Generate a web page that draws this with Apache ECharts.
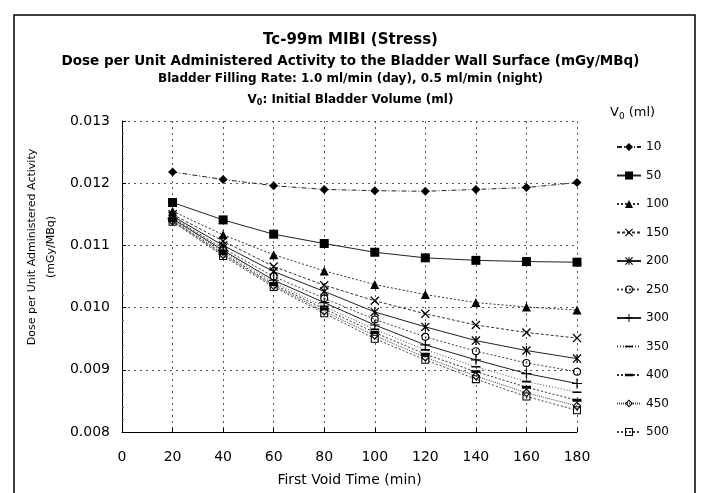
<!DOCTYPE html>
<html>
<head>
<meta charset="utf-8">
<script src="https://cdn.jsdelivr.net/npm/echarts@6/dist/echarts.min.js"></script>
<style>
  html, body { margin: 0; padding: 0; background: #fff; }
  #chart { width: 701px; height: 493px; }
</style>
</head>
<body>
<div id="chart"></div>
<script>
// first void time (min)
var times = [20, 40, 60, 80, 100, 120, 140, 160, 180];
// initial bladder volume V0 (ml)
var volumes = ['10', '50', '100', '150', '200', '250', '300', '350', '400', '450', '500'];

var v10  = [0.01218, 0.01206, 0.01196, 0.01190, 0.01188, 0.01187, 0.01190, 0.01193, 0.01201];
var v50  = [0.01169, 0.01141, 0.01118, 0.01103, 0.01089, 0.01080, 0.01076, 0.01074, 0.01073];
var v100 = [0.01155, 0.01117, 0.01085, 0.01059, 0.01037, 0.01021, 0.01008, 0.01001, 0.00996];
var v150 = [0.01150, 0.01107, 0.01066, 0.01036, 0.01011, 0.00990, 0.00972, 0.00960, 0.00951];
var v200 = [0.01147, 0.01100, 0.01058, 0.01026, 0.00993, 0.00969, 0.00947, 0.00931, 0.00918];
var v250 = [0.01145, 0.01095, 0.01050, 0.01015, 0.00981, 0.00953, 0.00930, 0.00911, 0.00897];
var v300 = [0.01143, 0.01092, 0.01044, 0.01008, 0.00972, 0.00940, 0.00916, 0.00894, 0.00878];
var v350 = [0.01141, 0.01090, 0.01040, 0.01002, 0.00965, 0.00932, 0.00905, 0.00881, 0.00864];
var v400 = [0.01140, 0.01087, 0.01037, 0.00998, 0.00960, 0.00925, 0.00897, 0.00872, 0.00851];
var v450 = [0.01139, 0.01085, 0.01035, 0.00994, 0.00955, 0.00920, 0.00890, 0.00863, 0.00842];
var v500 = [0.01138, 0.01083, 0.01033, 0.00991, 0.00950, 0.00916, 0.00885, 0.00857, 0.00835];

var allValues = [v10, v50, v100, v150, v200, v250, v300, v350, v400, v450, v500];

var yMin = 0.008, yMax = 0.013, yStep = 0.001;

// marker shapes (outline ones drawn as rings so the stroke stays thin)
var crossX = 'path://M0,1 L1,0 L10,9 L9,10 Z M9,0 L10,1 L1,10 L0,9 Z';
var star = 'path://M0,1 L1,0 L10,9 L9,10 Z M9,0 L10,1 L1,10 L0,9 Z M4.4,0 L5.6,0 L5.6,10 L4.4,10 Z';
var plus = 'path://M0,4.4 L10,4.4 L10,5.6 L0,5.6 Z M4.4,0 L5.6,0 L5.6,10 L4.4,10 Z';
// dashes: tiny corner specks keep the box square so the legend doesn't stretch them
var thinDash = 'path://M0,0 L0.01,0 L0.01,0.01 Z M0,4.1 L10,4.1 L10,5.9 L0,5.9 Z M10,10 L9.99,10 L9.99,9.99 Z';
var thickDash = 'path://M0,0 L0.01,0 L0.01,0.01 Z M0,3.4 L10,3.4 L10,6.6 L0,6.6 Z M10,10 L9.99,10 L9.99,9.99 Z';
var ring = 'path://M5,0 A5,5 0 1 1 5,10 A5,5 0 1 1 5,0 Z M5,1.4 A3.6,3.6 0 1 0 5,8.6 A3.6,3.6 0 1 0 5,1.4 Z';
var openDiamond = 'path://M5,0 L10,5 L5,10 L0,5 Z M5,1.8 L1.8,5 L5,8.2 L8.2,5 Z';
var openSquare = 'path://M0,0 L10,0 L10,10 L0,10 Z M1.3,1.3 L1.3,8.7 L8.7,8.7 L8.7,1.3 Z';

var markers = [
  {symbol: 'diamond', size: 9},
  {symbol: 'rect', size: 9},
  {symbol: 'triangle', size: 9},
  {symbol: crossX, size: 9},
  {symbol: star, size: 9},
  {symbol: ring, size: 8},
  {symbol: plus, size: 10},
  {symbol: thinDash, size: 9},
  {symbol: thickDash, size: 9},
  {symbol: openDiamond, size: 9},
  {symbol: openSquare, size: 8}
];
var lineTypes = [[5, 2, 1, 2], 'solid', [2, 2], [3, 2], 'solid', [2, 2], 'solid', [1, 2], [2, 2], [1, 1], [2, 2]];
var lineColors = ['#222', '#222', '#333', '#333', '#222', '#444', '#222', '#444', '#333', '#444', '#444'];

var series = volumes.map(function (name, i) {
  return {
    name: name,
    type: 'line',
    data: times.map(function (t, j) { return [t, allValues[i][j]]; }),
    symbol: markers[i].symbol,
    symbolSize: markers[i].size,
    showSymbol: true,
    lineStyle: { color: lineColors[i], width: 1, type: lineTypes[i] },
    itemStyle: { color: '#000' },
    emphasis: { disabled: true },
    z: 20 - i
  };
});

var font = 'DejaVu Sans';

var chart = echarts.init(document.getElementById('chart'));
chart.setOption({
  animation: false,
  backgroundColor: '#fff',
  title: [
    { text: 'Tc-99m MIBI (Stress)', left: 'center', top: 28,
      textStyle: { fontFamily: font, fontSize: 15, fontWeight: 'bold', color: '#000' } },
    { text: 'Dose per Unit Administered Activity to the Bladder Wall Surface (mGy/MBq)', left: 'center', top: 49,
      textStyle: { fontFamily: font, fontSize: 13.5, fontWeight: 'bold', color: '#000' } },
    { text: 'Bladder Filling Rate: 1.0 ml/min (day), 0.5 ml/min (night)', left: 'center', top: 68,
      textStyle: { fontFamily: font, fontSize: 12, fontWeight: 'bold', color: '#000' } },
    { text: 'V{sub|0}: Initial Bladder Volume (ml)', left: 'center', top: 87,
      textStyle: { fontFamily: font, fontSize: 12, fontWeight: 'bold', color: '#000',
        rich: { sub: { fontFamily: font, fontSize: 8, fontWeight: 'bold', padding: [7, 0, 0, 0] } } } }
  ],
  graphic: [
    { type: 'rect', shape: { x: 14, y: 15, width: 681, height: 490 },
      style: { fill: 'none', stroke: '#000', lineWidth: 1.5 }, silent: true },
    { type: 'text', left: 610, top: 106,
      style: { text: 'V{sub|0} (ml)', font: '13px ' + font, fill: '#000',
        rich: { sub: { font: '9px ' + font, padding: [8, 0, 0, 0] } } } },
    { type: 'text', x: 42, y: 247, rotation: Math.PI / 2,
      style: { text: 'Dose per Unit Administered Activity\n(mGy/MBq)', font: '11px ' + font,
        fill: '#000', align: 'center', verticalAlign: 'middle', lineHeight: 19 } }
  ],
  legend: {
    orient: 'vertical',
    left: 611,
    top: 136,
    itemWidth: 24,
    itemHeight: 10,
    itemGap: 16.5,
    data: volumes,
    textStyle: { fontFamily: font, fontSize: 12, color: '#000' },
    selectedMode: false
  },
  grid: { left: 122, right: 124, top: 121, bottom: 61 },
  xAxis: {
    type: 'value',
    min: 0, max: 180, interval: 20,
    name: 'First Void Time (min)',
    nameLocation: 'middle',
    nameGap: 41,
    nameTextStyle: { fontFamily: font, fontSize: 14, color: '#000' },
    axisLine: { lineStyle: { color: '#000', width: 1 } },
    axisTick: { show: true, inside: true, length: 4, lineStyle: { color: '#000' } },
    axisLabel: { fontFamily: font, fontSize: 14, color: '#000', margin: 18 },
    splitLine: { show: true, lineStyle: { color: '#555', type: [2, 4], width: 1 } }
  },
  yAxis: {
    type: 'value',
    min: yMin, max: yMax, interval: yStep,
    axisLine: { show: true, lineStyle: { color: '#000', width: 1 } },
    axisTick: { show: true, inside: true, length: 4, lineStyle: { color: '#000' } },
    minorTick: { show: true, splitNumber: 5, length: 2, lineStyle: { color: '#666' } },
    axisLabel: { fontFamily: font, fontSize: 14, color: '#000', margin: 12,
      formatter: function (v) { return v.toFixed(3); } },
    splitLine: { show: true, lineStyle: { color: '#555', type: [2, 4], width: 1 } }
  },
  series: series
});
</script>
</body>
</html>
